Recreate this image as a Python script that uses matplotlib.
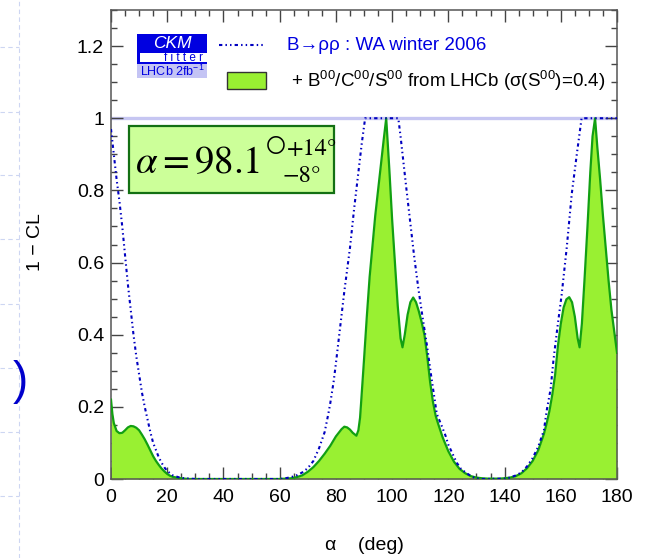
import matplotlib
matplotlib.use("Agg")
import matplotlib.pyplot as plt
from matplotlib.patches import Rectangle
from matplotlib.lines import Line2D

plt.rcParams['font.family'] = ['Liberation Sans', 'DejaVu Sans']
plt.rcParams['mathtext.fontset'] = 'custom'
plt.rcParams['mathtext.rm'] = 'Liberation Sans'
plt.rcParams['mathtext.it'] = 'Liberation Sans:italic'
plt.rcParams['mathtext.sf'] = 'Liberation Sans'

# ---------------- data ----------------
# LHCb-extended fit (green, filled)
alpha_lhcb = [0, 0.5, 1, 2, 3, 4, 5, 6, 7, 8, 9, 10, 11, 12, 13, 14, 15, 16, 17, 18, 19, 20,
              21, 22, 24, 26, 28, 40, 60, 62, 64, 66, 68, 70, 72, 74, 76, 78, 80, 82, 83, 84,
              85, 86, 87.3, 88, 88.6, 89, 90, 91, 92, 93, 94, 95, 96, 97, 97.9, 99, 100,
              101, 102, 103, 103.7, 104.5, 105.5, 106.5, 107.5, 108.5, 109.5, 110.5, 111.5,
              112.5, 113.5, 114.5, 115.5, 116.5, 118, 120, 122, 124, 126, 128, 130, 132, 134,
              138, 140, 142, 144, 146, 148, 150, 152, 154, 155, 156, 157, 158, 159, 160, 161,
              162, 163, 164, 165, 166, 166.7, 167.5, 168.5, 169.5, 170.5, 171.3, 172.2,
              173, 174, 175, 176, 177, 178, 179, 180]
cl_lhcb = [0.22, 0.18, 0.155, 0.133, 0.127, 0.128, 0.135, 0.143, 0.147, 0.146, 0.142, 0.135,
           0.123, 0.11, 0.095, 0.079, 0.063, 0.05, 0.039, 0.029, 0.021, 0.014, 0.009, 0.006,
           0.003, 0.001, 0.0, 0.0, 0.0, 0.001, 0.002, 0.005, 0.01, 0.02, 0.033, 0.05, 0.07,
           0.092, 0.118, 0.138, 0.145, 0.143, 0.137, 0.128, 0.12, 0.135, 0.17, 0.215, 0.33,
           0.45, 0.56, 0.645, 0.73, 0.8, 0.87, 0.94, 1.0, 0.86, 0.72, 0.6, 0.48, 0.39, 0.365,
           0.4, 0.455, 0.49, 0.503, 0.49, 0.465, 0.435, 0.4, 0.34, 0.27, 0.215, 0.175, 0.15,
           0.115, 0.077, 0.048, 0.028, 0.016, 0.008, 0.004, 0.002, 0.001, 0.001, 0.002, 0.004,
           0.008, 0.016, 0.03, 0.05, 0.08, 0.125, 0.155, 0.19, 0.235, 0.29, 0.37, 0.43, 0.475,
           0.498, 0.504, 0.49, 0.45, 0.39, 0.365, 0.43, 0.56, 0.7, 0.85, 0.95, 1.0, 0.92, 0.83,
           0.73, 0.64, 0.55, 0.47, 0.41, 0.35]

# WA winter 2006 (blue dash-dotted)
alpha_wa = [0, 1, 2, 3, 4, 5, 6, 7, 8, 9, 10, 11, 12, 13, 14, 15, 16, 17, 18, 19, 20, 22, 24,
            26, 28, 30, 60, 62, 64, 66, 68, 70, 72, 74, 76, 77.3, 78, 79.2, 80, 81.5, 83, 85,
            86.5, 88, 89.2, 90.4, 102.2, 103, 104, 105, 106.4, 107.8, 109.3, 110.8, 112.3, 114,
            115.9, 117.5, 119, 120, 121.5, 123, 124.5, 126.5, 128.5, 130, 132, 140, 142, 144,
            146, 148, 150, 152, 154, 155, 156.4, 157.4, 158.8, 160.3, 162.1, 163.9, 165.7,
            167.4, 180]
cl_wa = [0.97, 0.9, 0.83, 0.77, 0.7, 0.62, 0.54, 0.47, 0.4, 0.34, 0.29, 0.24, 0.2, 0.165, 0.13,
         0.1, 0.08, 0.06, 0.045, 0.032, 0.022, 0.01, 0.005, 0.002, 0.001, 0.0, 0.0, 0.002,
         0.005, 0.01, 0.018, 0.03, 0.05, 0.085, 0.13, 0.18, 0.21, 0.27, 0.32, 0.42, 0.52, 0.64,
         0.75, 0.85, 0.93, 1.0, 1.0, 0.95, 0.88, 0.81, 0.715, 0.62, 0.53, 0.45, 0.375, 0.28,
         0.18, 0.15, 0.12, 0.095, 0.07, 0.045, 0.028, 0.016, 0.006, 0.002, 0.0, 0.001, 0.004,
         0.01, 0.018, 0.035, 0.058, 0.09, 0.135, 0.19, 0.25, 0.33, 0.42, 0.51, 0.64, 0.79,
         0.9, 1.0, 1.0]

x_ticks = [0, 20, 40, 60, 80, 100, 120, 140, 160, 180]
y_ticks = [0, 0.2, 0.4, 0.6, 0.8, 1.0, 1.2]
y_ticklabels = ['0', '0.2', '0.4', '0.6', '0.8', '1', '1.2']

label_wa = 'B→ρρ : WA winter 2006'
label_lhcb = r'+ B$^{00}$/C$^{00}$/S$^{00}$ from LHCb (σ(S$^{00}$)=0.4)'

# ---------------- figure ----------------
W, H = 648, 558
fig = plt.figure(figsize=(W / 100, H / 100), dpi=100)
fig.patch.set_facecolor('white')

X0, X1, YT, YB = 111, 617, 10, 479
ax = fig.add_axes([X0 / W, 1 - YB / H, (X1 - X0) / W, (YB - YT) / H])


def fx(x):
    return x / W


def fy(y):
    return 1 - y / H


# slide background guide lines
guide = '#cdd6f2'
fig.add_artist(Line2D([fx(19), fx(19)], [0, 1], color=guide, lw=0.8, ls=(0, (4, 3))))
for yy in [47, 112, 175, 239, 304, 368, 432, 496]:
    fig.add_artist(Line2D([0, fx(19)], [fy(yy), fy(yy)], color=guide, lw=0.8, ls=(0, (4, 3))))

fig.text(fx(20), fy(382), ')', color='#0000cc', fontsize=33, ha='center', va='center')

blue_ls = (0, (1.6, 1.5, 0.7, 1.5, 0.7, 1.5))

# curves
ax.axhline(1.0, color='#c6c6f2', lw=2.4, zorder=1)
ax.fill_between(alpha_lhcb, 0, cl_lhcb, color='#99f032', lw=0, zorder=2)
ax.plot(alpha_lhcb, cl_lhcb, color='#12a012', lw=1.6, zorder=3)
ax.plot(alpha_wa, cl_wa, color='#0000c0', lw=1.5, ls=blue_ls, zorder=4)

ax.set_xlim(0, 180)
ax.set_ylim(0, 1.3)
ax.set_xticks(x_ticks)
ax.set_xticklabels([str(v) for v in x_ticks])
ax.set_yticks(y_ticks)
ax.set_yticklabels(y_ticklabels)
ax.set_xticks([v for v in range(0, 181, 5) if v % 20], minor=True)
ax.set_yticks([i * 0.05 for i in range(27) if i % 4], minor=True)
ax.tick_params(which='both', direction='in', top=True, right=True, colors='#444444',
               labelcolor='black', labelsize=14, width=1)
ax.tick_params(which='major', length=8.5)
ax.tick_params(which='minor', length=4)
ax.tick_params(axis='x', pad=7)
ax.tick_params(axis='y', pad=5)
for s in ax.spines.values():
    s.set_color('#555555')
    s.set_linewidth(1.1)

fig.text(fx(36), fy(242), '1 − CL', rotation=90, fontsize=14, ha='center', va='center')
fig.text(fx(364), fy(545), 'α    (deg)', fontsize=14, ha='center', va='center')

# legend (drawn in pixel positions of the reference)
def rect(x0, y0, x1, y1, **kw):
    fig.add_artist(Rectangle((fx(x0), fy(y1)), fx(x1) - fx(x0), fy(y0) - fy(y1),
                             transform=fig.transFigure, **kw))

# CKMfitter logo
rect(137, 34, 207, 64, facecolor='#0000e0', edgecolor='none')
rect(140, 53, 207, 62, facecolor='white', edgecolor='none')
rect(137, 64, 207, 78, facecolor='#c4c4f4', edgecolor='none')
fig.text(fx(172), fy(44), 'CKM', color='white', fontsize=12.5, style='italic',
         ha='center', va='center')
fig.text(fx(184), fy(58), 'f i t t e r', color='#0000e0', fontsize=8.5,
         ha='center', va='center')
fig.text(fx(140), fy(71.5), r'LHCb 2fb$^{-1}$', color='#0000e0', fontsize=9,
         ha='left', va='center')

fig.add_artist(Line2D([fx(219), fx(265)], [fy(45), fy(45)], color='#0000c0', lw=1.5,
                      ls=blue_ls))
fig.text(fx(287), fy(45), label_wa, color='#0000e0', fontsize=13.5, ha='left', va='center')
rect(227, 72, 266, 89, facecolor='#99f032', edgecolor='#333333', lw=1)
fig.text(fx(291), fy(81), label_lhcb, color='black', fontsize=13.5, ha='left', va='center')

# result box
rect(129, 126, 334, 193, facecolor='#ccff99', edgecolor='#137013', lw=1.6)
fig.text(fx(135), fy(173), r'$\alpha = 98.1$', fontsize=28, math_fontfamily='stix',
         ha='left', va='baseline', color='black')
fig.text(fx(276), fy(145), '○', fontsize=17, family='STIXGeneral',
         ha='center', va='center', color='black')
fig.text(fx(287), fy(155), '+14°', fontsize=17.5, family='STIXGeneral',
         ha='left', va='baseline', color='black')
fig.text(fx(282), fy(182), '−8°', fontsize=17.5, family='STIXGeneral',
         ha='left', va='baseline', color='black')

fig.savefig('out.png', dpi=100)
